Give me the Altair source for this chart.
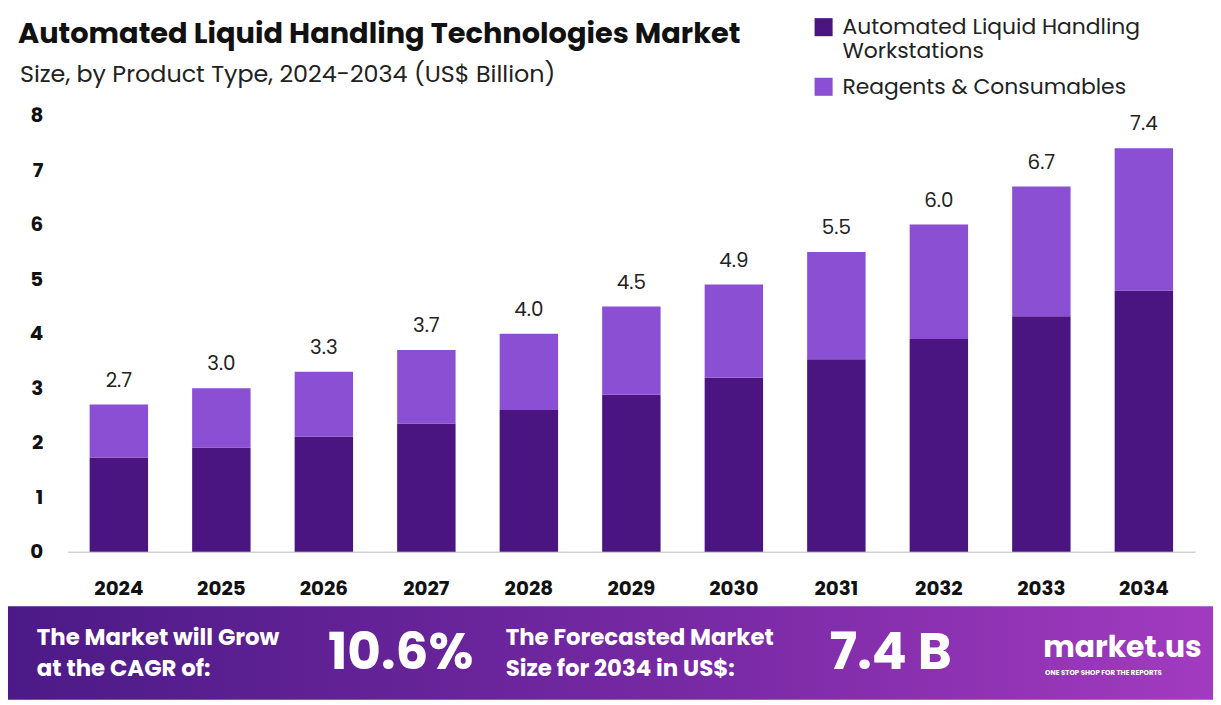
import altair as alt
import pandas as pd

years = ['2024', '2025', '2026', '2027', '2028', '2029', '2030', '2031', '2032', '2033', '2034']
totals = [2.7, 3.0, 3.3, 3.7, 4.0, 4.5, 4.9, 5.5, 6.0, 6.7, 7.4]
workstations = [1.73, 1.91, 2.11, 2.35, 2.60, 2.88, 3.19, 3.53, 3.90, 4.32, 4.79]
consumables = [round(t - w, 2) for t, w in zip(totals, workstations)]

seg_names = ['Automated Liquid Handling Workstations', 'Reagents & Consumables']
seg_colors = ['#4a1580', '#8a4fd2']
FONT = 'Poppins, Open Sans'

rows = []
for i, y in enumerate(years):
    rows.append({'year': y, 'segment': seg_names[0], 'value': workstations[i], 'order': 0})
    rows.append({'year': y, 'segment': seg_names[1], 'value': consumables[i], 'order': 1})
df = pd.DataFrame(rows)
tot_df = pd.DataFrame({'year': years, 'total': totals, 'label': [f'{t:.1f}' for t in totals]})

x_enc = alt.X('year:N', title=None, sort=years,
              scale=alt.Scale(paddingInner=0.43, paddingOuter=0.215),
              axis=alt.Axis(labelAngle=0, labelFontSize=20, labelFontWeight='bold', labelColor='#111',
                            labelFont=FONT, ticks=False, domainColor='#bbbbbb', labelPadding=27))

bars = alt.Chart(df).mark_bar().encode(
    x=x_enc,
    y=alt.Y('value:Q', stack='zero', title=None,
            scale=alt.Scale(domain=[0, 8]),
            axis=alt.Axis(values=list(range(9)), grid=False, domain=False, ticks=False,
                          labelFontSize=20, labelFontWeight='bold', labelColor='#111',
                          labelFont=FONT, labelPadding=25)),
    color=alt.Color('segment:N', scale=alt.Scale(domain=seg_names, range=seg_colors),
                    legend=alt.Legend(title=None, orient='none', legendX=750, legendY=-100,
                                      symbolType='square', symbolSize=330, labelFontSize=22,
                                      labelFont=FONT, labelColor='#222', rowPadding=14,
                                      labelLimit=400, symbolStrokeWidth=0,
                                      labelOffset=8,
                                      labelExpr="datum.label == 'Automated Liquid Handling Workstations' ? ['Automated Liquid Handling', 'Workstations'] : datum.label")),
    order=alt.Order('order:Q')
)

labels = alt.Chart(tot_df).mark_text(dy=-24, fontSize=20, font=FONT, color='#222').encode(
    x=alt.X('year:N', sort=years), y='total:Q', text='label:N'
)

one = pd.DataFrame({'a': [0]})


def txt(text, x, y, size, weight='normal', color='#111', align='left'):
    return alt.Chart(one).mark_text(text=text, fontSize=size, fontWeight=weight, color=color,
                                    align=align, baseline='middle', font=FONT).encode(
        x=alt.value(x), y=alt.value(y))


banner = alt.Chart(one).mark_rect(
    color=alt.Gradient(gradient='linear', x1=0, x2=1, y1=0, y2=0,
                       stops=[alt.GradientStop(color='#4b1a86', offset=0),
                              alt.GradientStop(color='#7a2aa6', offset=0.6),
                              alt.GradientStop(color='#a23bbf', offset=1)])
).encode(x=alt.value(-68), x2=alt.value(1153), y=alt.value(494), y2=alt.value(588))

texts = [
    txt('Automated Liquid Handling Technologies Market', -50, -82, 29, 'bold'),
    txt('Size, by Product Type, 2024-2034 (US$ Billion)', -48, -41, 24, color='#222'),
    txt('The Market will Grow', -31, 526, 23, 'bold', 'white'),
    txt('at the CAGR of:', -31, 557, 23, 'bold', 'white'),
    txt('10.6%', 262, 541, 52, 'bold', 'white'),
    txt('The Forecasted Market', 441, 526, 23, 'bold', 'white'),
    txt('Size for 2034 in US$:', 441, 557, 23, 'bold', 'white'),
    txt('7.4 B', 767, 541, 52, 'bold', 'white'),
    txt('market.us', 982, 536, 30, 'bold', 'white'),
    txt('ONE STOP SHOP FOR THE REPORTS', 984, 561, 7, 'bold', 'white'),
]

chart = alt.layer(bars, labels, banner, *texts).properties(
    width=1135, height=439,
    autosize=alt.AutoSizeParams(type='none'),
    padding={'left': 60, 'top': 106, 'right': 18, 'bottom': 150}
).configure(background='white').configure_view(stroke=None, strokeWidth=0)

chart.save('out.html', embed_options={'renderer': 'svg', 'actions': False})
